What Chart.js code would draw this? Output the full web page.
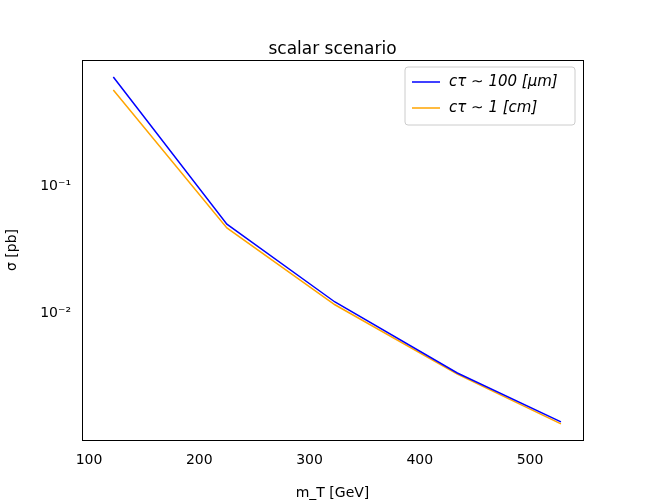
<!DOCTYPE html>
<html>
<head>
<meta charset="utf-8">
<script src="https://cdn.jsdelivr.net/npm/chart.js@4"></script>
<style>body{margin:0;background:#fff}</style>
</head>
<body>
<canvas id="c" width="648" height="504"></canvas>
<script>
const massValues = [122, 225, 323, 434, 528]
const sigma100um = [0.72, 0.050, 0.0122, 0.00337, 0.00139]
const sigma1cm = [0.57, 0.0467, 0.0116, 0.0033, 0.00134]
const xTicks = [100, 200, 300, 400, 500]
const yTicks = [0.1, 0.01]
const legendLabels = ['cτ ∼ 100 [μm]', 'cτ ∼ 1 [cm]']
const colors = ['#0000ff', '#ffa500']
const FONT = 'DejaVu Sans'

const frame = {
  id: 'frame',
  afterDraw(chart) {
    const { ctx, chartArea: a } = chart
    ctx.save()
    ctx.strokeStyle = '#000'; ctx.lineWidth = 1
    ctx.strokeRect(a.left + 0.5, a.top + 0.5, a.right - a.left, a.bottom - a.top)
    ctx.fillStyle = '#000'; ctx.textAlign = 'center'; ctx.textBaseline = 'alphabetic'
    ctx.font = `17px ${FONT}`
    ctx.fillText('scalar scenario', (a.left + a.right) / 2, 54)
    // legend
    const lx = 405, ly = 67, lw = 170, lh = 58
    ctx.fillStyle = 'rgba(255,255,255,0.8)'; ctx.strokeStyle = '#ccc'
    ctx.beginPath(); ctx.roundRect(lx, ly, lw, lh, 3); ctx.fill(); ctx.stroke()
    ctx.textAlign = 'left'; ctx.textBaseline = 'middle'
    legendLabels.forEach((t, i) => {
      const y = ly + 15 + i * 26
      ctx.strokeStyle = colors[i]; ctx.lineWidth = 1.5
      ctx.beginPath(); ctx.moveTo(lx + 7, y); ctx.lineTo(lx + 35, y); ctx.stroke()
      ctx.fillStyle = '#000'; ctx.font = `italic 15px ${FONT}`
      ctx.fillText(t, lx + 44, y)
    })
    ctx.restore()
  }
}

new Chart(document.getElementById('c'), {
  type: 'line',
  data: {
    datasets: [
      { label: legendLabels[0], data: massValues.map((x, i) => ({ x, y: sigma100um[i] })), borderColor: colors[0], borderWidth: 1.5, pointRadius: 0, tension: 0 },
      { label: legendLabels[1], data: massValues.map((x, i) => ({ x, y: sigma1cm[i] })), borderColor: colors[1], borderWidth: 1.5, pointRadius: 0, tension: 0 },
    ],
  },
  options: {
    responsive: false, animation: false, devicePixelRatio: 1,
    layout: { padding: { top: 60, right: 65, left: 0, bottom: 0 } },
    plugins: { legend: { display: false }, tooltip: { enabled: false } },
    scales: {
      x: {
        type: 'linear', min: 93.6, max: 548,
        afterBuildTicks: s => { s.ticks = xTicks.map(v => ({ value: v })) },
        afterFit: s => { s.height = 64 },
        grid: { display: false, drawTicks: true },
        border: { display: false },
        ticks: { color: '#000', font: { family: FONT, size: 14 }, padding: 4 },
        title: { display: true, text: 'm_T [GeV]', color: '#000', font: { family: FONT, size: 14 }, padding: 2 },
      },
      y: {
        type: 'logarithmic', min: 0.001, max: 0.98,
        afterBuildTicks: s => { s.ticks = yTicks.map(v => ({ value: v })) },
        afterFit: s => { s.width = 82 },
        grid: { display: false },
        border: { display: false },
        ticks: { color: '#000', font: { family: FONT, size: 14 }, callback: v => v === 0.1 ? '10⁻¹' : '10⁻²' },
        title: { display: true, text: 'σ [pb]', color: '#000', font: { family: FONT, size: 14 } },
      },
    },
  },
  plugins: [frame],
})
</script>
</body>
</html>
